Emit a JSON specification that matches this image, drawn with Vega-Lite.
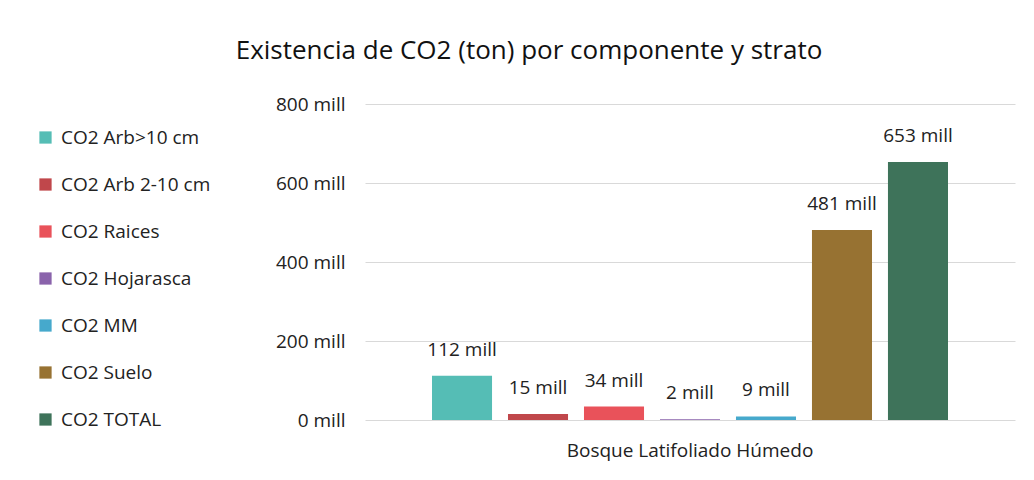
{
  "$schema": "https://vega.github.io/schema/vega-lite/v6.json",
  "autosize": {"type": "none"},
  "width": 650,
  "height": 316,
  "padding": {"left": 365, "top": 104, "right": 19, "bottom": 60},
  "background": "white",
  "title": {
    "text": "Existencia de CO2 (ton) por componente y strato",
    "font": "Open Sans",
    "fontSize": 26,
    "fontWeight": "normal",
    "color": "#111111",
    "anchor": "middle",
    "dx": -161,
    "offset": 31
  },
  "data": {
    "values": [
      {"estrato": "Bosque Latifoliado Húmedo", "componente": "CO2 Arb>10 cm", "valor": 112, "lbl": "112 mill"},
      {"estrato": "Bosque Latifoliado Húmedo", "componente": "CO2 Arb 2-10  cm", "valor": 15, "lbl": "15 mill"},
      {"estrato": "Bosque Latifoliado Húmedo", "componente": "CO2 Raices", "valor": 34, "lbl": "34 mill"},
      {"estrato": "Bosque Latifoliado Húmedo", "componente": "CO2 Hojarasca", "valor": 2, "lbl": "2 mill"},
      {"estrato": "Bosque Latifoliado Húmedo", "componente": "CO2  MM", "valor": 9, "lbl": "9 mill"},
      {"estrato": "Bosque Latifoliado Húmedo", "componente": "CO2  Suelo", "valor": 481, "lbl": "481 mill"},
      {"estrato": "Bosque Latifoliado Húmedo", "componente": "CO2  TOTAL", "valor": 653, "lbl": "653 mill"}
    ]
  },
  "encoding": {
    "x": {
      "field": "estrato",
      "type": "nominal",
      "scale": {"paddingInner": 0, "paddingOuter": 0},
      "axis": {
        "title": null,
        "labelAngle": 0,
        "labelFont": "Open Sans",
        "labelFontSize": 19,
        "labelColor": "#222222",
        "labelPadding": 21,
        "labelLimit": 500,
        "ticks": false,
        "domain": false
      }
    },
    "xOffset": {
      "field": "componente",
      "type": "nominal",
      "sort": null,
      "scale": {"paddingInner": 0.21, "paddingOuter": 0.0, "range": [67, 583]}
    },
    "y": {
      "field": "valor",
      "type": "quantitative",
      "scale": {"domain": [0, 800]},
      "axis": {
        "title": null,
        "values": [0, 200, 400, 600, 800],
        "labelExpr": "datum.value + ' mill'",
        "labelFont": "Open Sans",
        "labelFontSize": 19,
        "labelColor": "#222222",
        "labelPadding": 20,
        "ticks": false,
        "domain": false,
        "gridColor": "#d9d9d9",
        "gridWidth": 1
      }
    }
  },
  "layer": [
    {
      "mark": {"type": "bar"},
      "encoding": {
        "color": {
          "field": "componente",
          "type": "nominal",
          "sort": null,
          "scale": {
            "domain": ["CO2 Arb>10 cm", "CO2 Arb 2-10  cm", "CO2 Raices", "CO2 Hojarasca", "CO2  MM", "CO2  Suelo", "CO2  TOTAL"],
            "range": ["#55bdb5", "#c0474b", "#e9525a", "#8a63ab", "#46a9cc", "#977232", "#3e735a"]
          },
          "legend": {
            "title": null,
            "orient": "none",
            "legendX": -329,
            "legendY": 24,
            "symbolType": "square",
            "symbolSize": 150,
            "symbolStrokeWidth": 0,
            "labelFont": "Open Sans",
            "labelFontSize": 19,
            "labelColor": "#222222",
            "labelOffset": 6,
            "rowPadding": 27,
            "labelLimit": 300
          }
        }
      }
    },
    {
      "mark": {"type": "text", "baseline": "bottom", "dy": -16, "font": "Open Sans", "fontSize": 19, "color": "#222222"},
      "encoding": {
        "text": {"field": "lbl", "type": "nominal"},
        "detail": {"field": "componente"}
      }
    }
  ],
  "config": {
    "view": {"stroke": null}
  }
}
